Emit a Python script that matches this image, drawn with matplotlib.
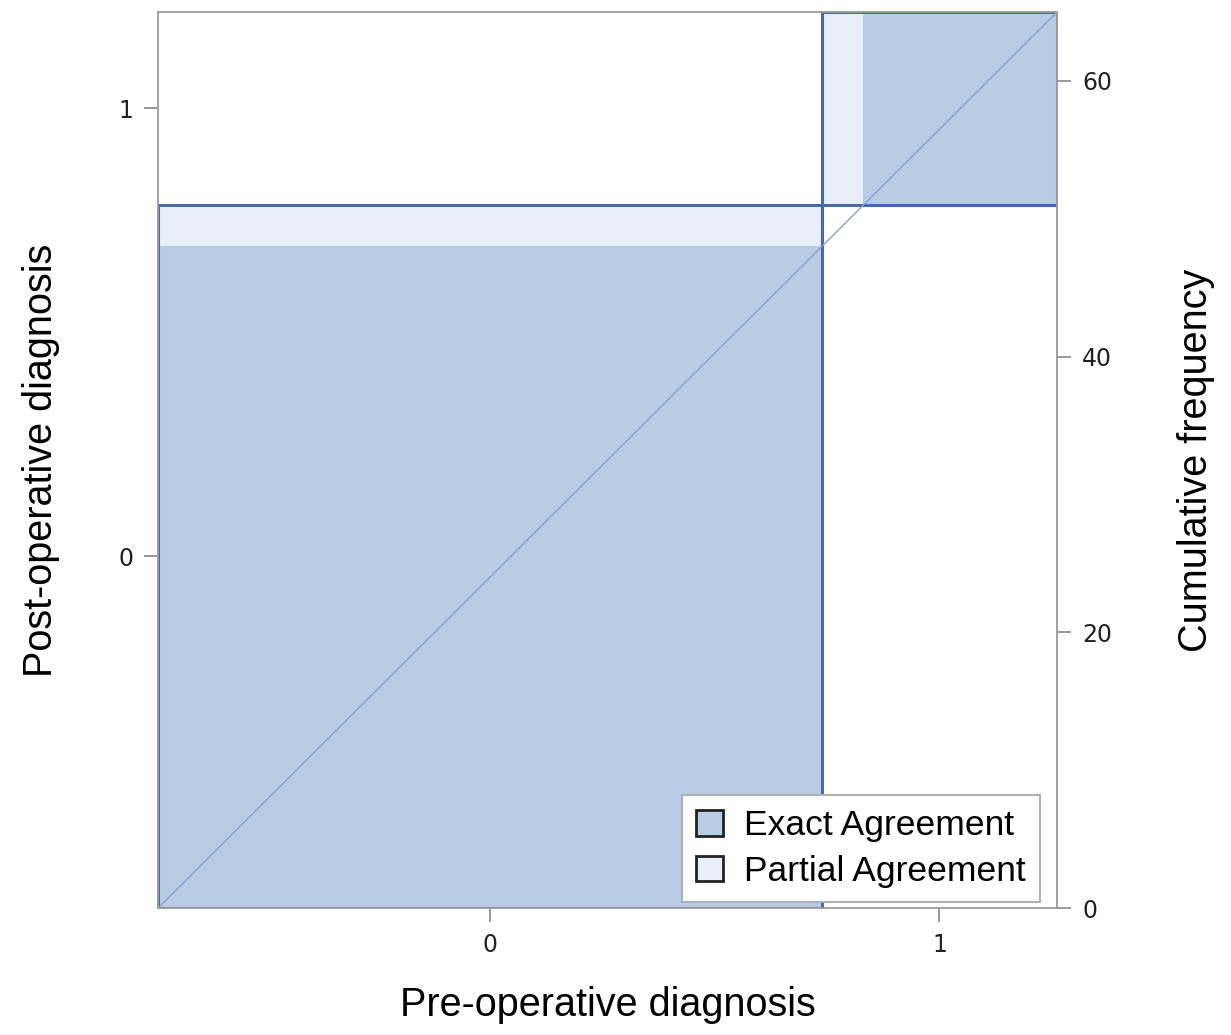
import matplotlib
matplotlib.use("Agg")
import matplotlib.pyplot as plt
from matplotlib.patches import Rectangle, Patch
import numpy as np

# 2x2 table: rows = pre-operative, cols = post-operative
categories = ["0", "1"]
counts = np.array([[48, 0],
                   [3, 14]])

row_tot = counts.sum(axis=1)   # widths (pre-operative)
col_tot = counts.sum(axis=0)   # heights (post-operative)
n = counts.sum()

exact_col = "#b8cce6"
partial_col = "#e9eff8"
edge_col = "#4a6aa6"

fig = plt.figure(figsize=(12.31, 10.35), dpi=100)
ax = fig.add_axes([0.1284, 0.1227, 0.7303, 0.8657])

x0 = np.concatenate([[0], np.cumsum(row_tot)[:-1]])
y0 = np.concatenate([[0], np.cumsum(col_tot)[:-1]])

for i in range(len(categories)):
    # partial agreement rectangle (whole cell block)
    ax.add_patch(Rectangle((x0[i], y0[i]), row_tot[i], col_tot[i],
                           facecolor=partial_col, edgecolor="none", zorder=1))
    # exact agreement square
    xs = x0[i] + counts[i, :i].sum()
    ys = y0[i] + counts[:i, i].sum()
    ax.add_patch(Rectangle((xs, ys), counts[i, i], counts[i, i],
                           facecolor=exact_col, edgecolor="none", zorder=2))
    # outline of the block
    ax.add_patch(Rectangle((x0[i], y0[i]), row_tot[i], col_tot[i],
                           facecolor="none", edgecolor=edge_col, lw=2.2, zorder=3))

ax.plot([0, n], [0, n], color="#8aa2c8", lw=1.0, zorder=4)

ax.set_xlim(0, n)
ax.set_ylim(0, n)

ax.set_xticks(x0 + row_tot / 2)
ax.set_xticklabels(categories)
ax.set_yticks(y0 + col_tot / 2)
ax.set_yticklabels(categories)

ax2 = ax.twinx()
ax2.set_ylim(0, n)
ax2.set_yticks([0, 20, 40, 60])

for a in (ax, ax2):
    for s in a.spines.values():
        s.set_color("#a0a0a0")
        s.set_linewidth(1.2)
    a.tick_params(length=10, width=1.2, color="#888888", labelsize=17,
                  pad=8, labelcolor="#222222")

label_font = dict(family=["Liberation Sans Narrow", "Liberation Sans", "DejaVu Sans"],
                  size=28.5)
ax.set_xlabel("Pre-operative diagnosis", labelpad=21, **label_font)
ax.set_ylabel("Post-operative diagnosis", labelpad=42, **label_font)
ax2.set_ylabel("Cumulative frequency", labelpad=47, rotation=90, **label_font)

handles = [Patch(facecolor=exact_col, edgecolor="#222222", lw=2, label="Exact Agreement"),
           Patch(facecolor=partial_col, edgecolor="#222222", lw=2, label="Partial Agreement")]
leg = ax2.legend(handles=handles, loc="lower right", bbox_to_anchor=(0.981, 0.0067),
                 frameon=True, fancybox=False, framealpha=1, handlelength=0.75,
                 handleheight=0.75, handletextpad=0.6, borderpad=0.4, labelspacing=0.35,
                 borderaxespad=0.0, prop=dict(family="Liberation Sans", size=25.5))
leg.get_frame().set_edgecolor("#b0b0b0")
leg.get_frame().set_linewidth(1.5)
leg.set_zorder(10)

fig.savefig("out.png", dpi=100)
